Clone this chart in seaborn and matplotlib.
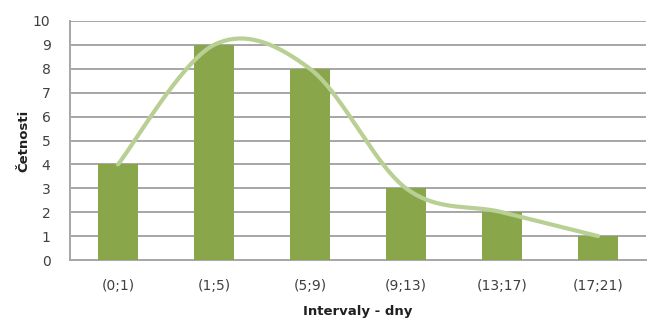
import numpy as np
import pandas as pd
import matplotlib
matplotlib.use("Agg")
import matplotlib.pyplot as plt
import seaborn as sns

categories = ["(0;1)", "(1;5)", "(5;9)", "(9;13)", "(13;17)", "(17;21)"]
counts = [4, 9, 8, 3, 2, 1]
y_ticks = list(range(0, 11))

sns.set_theme(style="white")
plt.rcParams["font.family"] = ["DejaVu Sans"]

bar_color = "#8AA64A"
line_color = "#B8D094"
text_color = "#404040"
grid_color = "#A6A6A6"

fig = plt.figure(figsize=(6.47, 3.2), dpi=100)
ax = fig.add_axes([70 / 647, 1 - 260 / 320, 576 / 647, 239 / 320])

# horizontal guide lines behind the bars
for y in y_ticks[1:]:
    ax.axhline(y, color=grid_color, lw=1.4, zorder=0)

df = pd.DataFrame({"interval": categories, "count": counts})
sns.barplot(data=df, x="interval", y="count", color=bar_color, width=0.41,
            saturation=1, linewidth=0, ax=ax)
for bar in ax.patches:
    bar.set_zorder(3)


def smooth_curve(xs, ys, steps=40):
    """Bezier smoothing through points (Catmull-Rom style control points)."""
    xs = np.asarray(xs, float)
    ys = np.asarray(ys, float)
    n = len(xs)
    px, py = [], []
    for i in range(n - 1):
        p0 = np.array([xs[max(i - 1, 0)], ys[max(i - 1, 0)]])
        p1 = np.array([xs[i], ys[i]])
        p2 = np.array([xs[i + 1], ys[i + 1]])
        p3 = np.array([xs[min(i + 2, n - 1)], ys[min(i + 2, n - 1)]])
        c1 = p1 + (p2 - p0) / 6.0
        c2 = p2 - (p3 - p1) / 6.0
        t = np.linspace(0, 1, steps)[:, None]
        seg = ((1 - t) ** 3) * p1 + 3 * ((1 - t) ** 2) * t * c1 \
            + 3 * (1 - t) * t ** 2 * c2 + t ** 3 * p2
        px.extend(seg[:, 0])
        py.extend(seg[:, 1])
    return np.array(px), np.array(py)


cx, cy = smooth_curve(np.arange(len(counts)), counts)
ax.plot(cx, cy, color=line_color, lw=3, solid_capstyle="round", zorder=4)

ax.set_ylim(0, 10)
ax.set_xlim(-0.5, len(categories) - 0.5)
ax.set_yticks(y_ticks)
ax.grid(False)

for side in ["top", "right"]:
    ax.spines[side].set_visible(False)
for side in ["left", "bottom"]:
    ax.spines[side].set_color(grid_color)
    ax.spines[side].set_linewidth(1.4)
    ax.spines[side].set_zorder(2)

ax.tick_params(axis="y", length=0, pad=14, labelsize=10, labelcolor=text_color)
ax.tick_params(axis="x", length=0, pad=14, labelsize=10, labelcolor=text_color)

ax.set_xlabel("Intervaly - dny", fontsize=9.5, fontweight="bold",
              color="#202020", labelpad=8)
ax.set_ylabel("Četnosti", fontsize=9.5, fontweight="bold", color="#202020")
ax.yaxis.set_label_coords(-40 / 576, 0.5)

fig.savefig("out.png", dpi=100, facecolor="white")
